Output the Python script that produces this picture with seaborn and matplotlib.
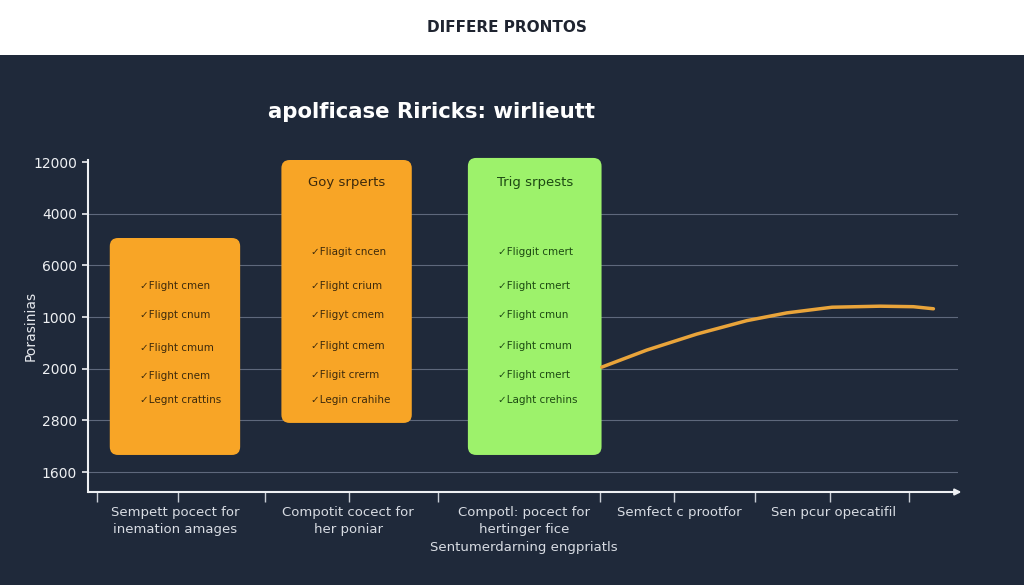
import numpy as np
import pandas as pd
import seaborn as sns
import matplotlib.pyplot as plt
from matplotlib.patches import FancyBboxPatch, Rectangle

# ---- data ----
ytick_labels = ['1600', '2800', '2000', '1000', '6000', '4000', '12000']
xtick_labels = [
    'Sempett pocect for\ninemation amages',
    'Compotit cocect for\nher poniar',
    'Compotl: pocect for\nhertinger fice\nSentumerdarning engpriatls',
    'Semfect c prootfor',
    'Sen pcur opecatifil',
]
xtick_pos = [0, 1.05, 2.115, 3.055, 3.99]
minor_tick_pos = [-0.473, 0.018, 0.545, 1.055, 1.594, 2.576, 3.024, 3.515, 3.97, 4.45]

box_x = [0.0, 1.04, 2.18]
box_width = [0.79, 0.79, 0.81]
box_bottom = [0.33, 0.95, 0.33]
box_top = [4.53, 6.04, 6.08]
box_colors = ['#f8a526', '#f8a526', '#9df26b']
box_text_colors = ['#3d2a0c', '#3d2a0c', '#1d4a12']
box_titles = [None, 'Goy srperts', 'Trig srpests']
box_items = [
    ['Flight cmen', 'Fligpt cnum', 'Flight cmum', 'Flight cnem', 'Legnt crattins'],
    ['Fliagit cncen', 'Flight crium', 'Fligyt cmem', 'Flight cmem', 'Fligit crerm', 'Legin crahihe'],
    ['Fliggit cmert', 'Flight cmert', 'Flight cmun', 'Flight cmum', 'Flight cmert', 'Laght crehins'],
]
item_y5 = [3.61, 3.03, 2.41, 1.86, 1.39]
item_y6 = [4.26, 3.61, 3.03, 2.43, 1.87, 1.39]

line_x = [2.586, 2.859, 3.162, 3.465, 3.707, 3.982, 4.273, 4.475, 4.596]
line_y = [2.03, 2.36, 2.67, 2.93, 3.08, 3.19, 3.21, 3.20, 3.16]

bg = '#1f293a'
sns.set_theme(style='dark', rc={'axes.facecolor': bg, 'figure.facecolor': bg})
plt.rcParams['font.family'] = ['DejaVu Sans']

fig = plt.figure(figsize=(10.24, 5.85), dpi=100)
fig.patches.append(Rectangle((0, 1 - 55 / 585), 1, 55 / 585, transform=fig.transFigure,
                             facecolor='white', edgecolor='none', zorder=0))
fig.text(507 / 1024, 1 - 27 / 585, 'DIFFERE PRONTOS', ha='center', va='center',
         fontsize=11, fontweight='bold', color='#1f2430')
fig.text(268 / 1024, 1 - 112 / 585, 'apolficase Riricks: wirlieutt', ha='left', va='center',
         fontsize=15.3, fontweight='bold', color='white')

ax = fig.add_axes([88 / 1024, 1 - 492 / 585, 870 / 1024, (492 - 160) / 585])
ax.set_xlim(-0.527, 4.745)
ax.set_ylim(-0.387, 6.04)

# gridlines
for y in range(6):
    ax.axhline(y, color='#5e687c', lw=0.8, zorder=1)

# floating bars -> rounded boxes
bars = ax.bar(box_x, np.array(box_top) - np.array(box_bottom), bottom=box_bottom,
              width=box_width, color=box_colors)
aspect = 165 / 51.67
for b, c in zip(bars, box_colors):
    x0, y0, w, h = b.get_x(), b.get_y(), b.get_width(), b.get_height()
    b.remove()
    ax.add_patch(FancyBboxPatch((x0, y0), w, h,
                                boxstyle='round,pad=0,rounding_size=0.05',
                                mutation_aspect=aspect, facecolor=c,
                                edgecolor='none', zorder=3, clip_on=False))

for i in range(3):
    items = box_items[i]
    ys = item_y5 if len(items) == 5 else item_y6
    x_start = box_x[i] - box_width[i] / 2 + 0.182
    for y, t in zip(ys, items):
        ax.text(x_start, y, '\u2713' + t, fontsize=7.5, color=box_text_colors[i],
                ha='left', va='center', zorder=4)
    if box_titles[i]:
        ax.text(box_x[i], 5.61, box_titles[i], fontsize=9.5, color=box_text_colors[i],
                ha='center', va='center', zorder=4)

sns.lineplot(x=line_x, y=line_y, ax=ax, color='#e9a43a', lw=2.5, zorder=5)

# axes styling
for s in ['top', 'right', 'bottom']:
    ax.spines[s].set_visible(False)
ax.spines['left'].set_color('#eef0f3')
ax.spines['left'].set_linewidth(1.5)
ax.annotate('', xy=(1.004, 0), xytext=(0, 0), xycoords='axes fraction',
            arrowprops=dict(arrowstyle='-|>', color='#eef0f3', lw=1.5,
                            mutation_scale=9, shrinkA=0, shrinkB=0))

ax.set_yticks(range(7))
ax.set_yticklabels(ytick_labels)
ax.tick_params(axis='y', colors='#eef0f3', labelsize=10, length=4, width=1.2,
               left=True, pad=4)
ax.set_xticks(xtick_pos)
ax.set_xticklabels(xtick_labels, color='#d8dce3', fontsize=9.5, linespacing=1.45)
ax.set_xticks(minor_tick_pos, minor=True)
ax.tick_params(axis='x', which='major', length=0, pad=10)
ax.tick_params(axis='x', which='minor', length=7, width=1, color='#c9ced6', bottom=True)
ax.set_ylabel('Porasinias', color='#e6e9ee', fontsize=10)
ax.yaxis.set_label_coords((38 - 88) / 870, 0.5)
ax.grid(False)

plt.savefig('out.png', dpi=100, facecolor=bg)
plt.close()
